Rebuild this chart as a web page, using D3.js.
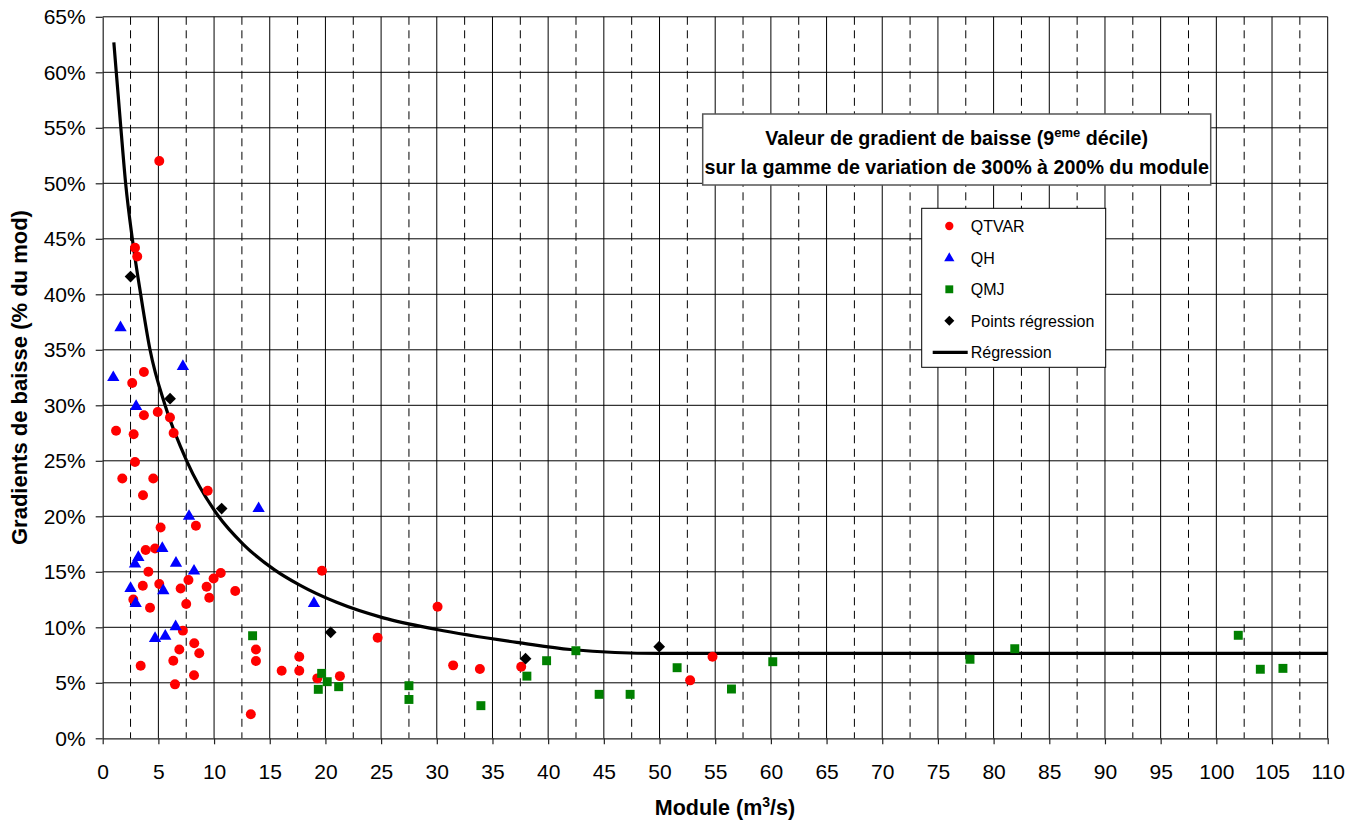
<!DOCTYPE html>
<html>
<head>
<meta charset="utf-8">
<script src="https://cdn.jsdelivr.net/npm/d3@7"></script>
<style>
  html, body { margin: 0; padding: 0; background: #fff; }
  svg { display: block; font-family: "Liberation Sans", Arial, sans-serif; }
</style>
</head>
<body>
<svg id="chart" width="1350" height="833"></svg>
<script>
// ---- Data: module (m3/s) and 9th-decile drop gradient (% of module) ----
const qtvarX = [5.08, 2.9, 3.1, 3.7, 2.65, 3.7, 4.94, 6.04, 1.2, 2.78, 6.37, 2.9, 1.76, 4.54, 9.43, 3.62,
  8.37, 5.2, 3.86, 4.7, 4.1, 10.6, 9.96, 7.7, 3.6, 5.08, 7.0, 9.33, 9.57, 11.9, 2.75, 7.5, 4.25, 7.2,
  8.22, 6.88, 8.67, 13.76, 13.76, 6.34, 3.41, 8.2, 6.49, 13.3, 19.69, 30.07, 24.69, 17.65, 16.07, 17.65,
  19.27, 21.3, 31.47, 33.87, 37.58, 54.76, 52.75];
const qtvarY = [52.0, 44.2, 43.4, 33.0, 32.0, 29.1, 29.4, 28.9, 27.7, 27.4, 27.5, 24.9, 23.4, 23.4, 22.3, 21.9,
  19.15, 19.0, 16.96, 17.1, 15.0, 14.9, 14.4, 14.26, 13.75, 13.9, 13.5, 13.66, 12.67, 13.27, 12.5, 12.1, 11.77, 9.7,
  8.56, 8.0, 7.66, 8.0, 6.96, 6.99, 6.54, 5.68, 4.86, 2.16, 15.1, 11.86, 9.06, 7.35, 6.09, 6.09,
  5.4, 5.6, 6.57, 6.24, 6.45, 7.35, 5.22];

const qhX = [1.6, 7.2, 0.95, 3.0, 14.0, 7.75, 5.35, 3.2, 2.9, 6.58, 8.2, 2.5, 5.44, 2.96, 6.55, 4.7, 5.62, 18.97];
const qhY = [37.0, 33.5, 32.5, 29.9, 20.7, 20.0, 17.1, 16.3, 15.7, 15.77, 15.07, 13.5, 13.3, 12.16, 10.05, 9.0, 9.2, 12.16];

const qmjX = [13.46, 19.66, 20.16, 19.36, 21.19, 27.5, 27.5, 33.96, 38.09, 39.86, 42.49, 44.58, 47.36,
  51.58, 56.46, 60.17, 77.88, 81.9, 101.97, 103.95, 105.98];
const qmjY = [9.24, 5.85, 5.1, 4.41, 4.65, 4.74, 3.5, 2.94, 5.6, 6.99, 7.89, 3.96, 3.96,
  6.36, 4.44, 6.9, 7.12, 8.07, 9.28, 6.22, 6.3];

const regPtsX = [2.5, 6.05, 10.68, 20.47, 37.97, 49.97];
const regPtsY = [41.6, 30.6, 20.7, 9.55, 7.17, 8.25];

// Regression curve, sampled along its course
const regLineX = [1.0, 1.22, 1.63, 2.06, 2.66, 3.41, 4.25, 5.6, 7.54, 10.4, 12.6, 15.4, 17.7, 21.0, 25.2, 30.0, 37.5, 42.0, 50.0, 110.0];
const regLineY = [62.7, 60.0, 55.0, 50.0, 45.0, 40.0, 35.0, 30.0, 25.0, 20.0, 17.5, 15.2, 13.8, 12.25, 10.85, 9.8, 8.6, 8.0, 7.65, 7.65];

const xTicks = d3.range(0, 111, 5);
const xMinor = d3.range(2.5, 110, 5);
const yTicks = d3.range(0, 66, 5);

const legendLabels = ["QTVAR", "QH", "QMJ", "Points régression", "Régression"];

// ---- Layout ----
const svg = d3.select("#chart");
const x = d3.scaleLinear().domain([0, 110]).range([102.7, 1327.7]);
const y = d3.scaleLinear().domain([0, 65]).range([738.3, 16.8]);

const grid = svg.append("g");
// horizontal major grid
grid.selectAll("line.h").data(yTicks.filter(d => d > 0)).join("line")
  .attr("x1", x(0)).attr("x2", x(110))
  .attr("y1", d => y(d)).attr("y2", d => y(d))
  .attr("stroke", "#000").attr("stroke-width", 1);
// vertical major grid
grid.selectAll("line.v").data(xTicks.filter(d => d > 0)).join("line")
  .attr("x1", d => x(d)).attr("x2", d => x(d))
  .attr("y1", y(0)).attr("y2", y(65))
  .attr("stroke", "#000").attr("stroke-width", 1);
// vertical minor dashed grid
grid.selectAll("line.m").data(xMinor).join("line")
  .attr("x1", d => x(d)).attr("x2", d => x(d))
  .attr("y1", y(65)).attr("y2", y(0))
  .attr("stroke", "#000").attr("stroke-width", 1)
  .attr("stroke-dasharray", "8,5.5");

// ---- Axes ----
const axisFont = 21;
const yAxis = svg.append("g").attr("transform", `translate(${x(0)},0)`)
  .call(d3.axisLeft(y).tickValues(yTicks).tickSize(7).tickSizeOuter(0).tickPadding(10)
    .tickFormat(d => d + "%"));
const xAxis = svg.append("g").attr("transform", `translate(0,${y(0)})`)
  .call(d3.axisBottom(x).tickValues(xTicks).tickSize(6).tickSizeOuter(0).tickPadding(19.3)
    .tickFormat(d3.format("d")));
[xAxis, yAxis].forEach(g => {
  g.select(".domain").attr("stroke", "#222").attr("stroke-width", 1.2);
  g.selectAll(".tick line").attr("stroke", "#222").attr("stroke-width", 1.2);
  g.selectAll(".tick text").attr("font-size", axisFont)
    .attr("font-family", "'Liberation Sans', Arial, sans-serif").attr("fill", "#000");
});
yAxis.selectAll(".tick text").attr("dy", "0.34em");

// ---- Regression curve ----
const line = d3.line().x(d => x(d[0])).y(d => y(d[1])).curve(d3.curveMonotoneX);
svg.append("path")
  .datum(d3.zip(regLineX, regLineY))
  .attr("d", line)
  .attr("fill", "none").attr("stroke", "#000").attr("stroke-width", 3.2);

// ---- Markers ----
const circleSym = d3.symbol().type(d3.symbolCircle);
const triSym = d3.symbol().type(d3.symbolTriangle);
const sqSym = d3.symbol().type(d3.symbolSquare);
const diaSym = d3.symbol().type(d3.symbolDiamond2);

function series(xs, ys, sym, size, color) {
  svg.append("g").selectAll("path").data(d3.zip(xs, ys)).join("path")
    .attr("transform", d => `translate(${x(d[0])},${y(d[1])})`)
    .attr("d", sym.size(size)())
    .attr("fill", color);
}
series(qtvarX, qtvarY, circleSym, 78, "#ff0000");
series(qhX, qhY, triSym, 66, "#0000ff");
series(qmjX, qmjY, sqSym, 80, "#008000");
series(regPtsX, regPtsY, diaSym, 88, "#000000");

// ---- Title box ----
const tb = svg.append("g");
tb.append("rect").attr("x", 702.7).attr("y", 114).attr("width", 508).attr("height", 71)
  .attr("fill", "#fff").attr("stroke", "#555").attr("stroke-width", 1.5);
const t1 = tb.append("text").attr("x", 956.7).attr("y", 145).attr("text-anchor", "middle")
  .attr("font-size", 19.7).attr("font-weight", "bold");
t1.append("tspan").text("Valeur de gradient de baisse (9");
t1.append("tspan").attr("font-size", 13).attr("dy", -8).text("eme");
t1.append("tspan").attr("dy", 8).text(" décile)");
tb.append("text").attr("x", 956.7).attr("y", 173.5).attr("text-anchor", "middle")
  .attr("font-size", 19.7).attr("font-weight", "bold")
  .text("sur la gamme de variation de 300% à 200% du module");

// ---- Legend ----
const lg = svg.append("g");
lg.append("rect").attr("x", 921.7).attr("y", 208.3).attr("width", 184).attr("height", 159)
  .attr("fill", "#fff").attr("stroke", "#000").attr("stroke-width", 1);
const rowY = [226, 258.3, 289.3, 320.7, 352.3];
const lgSyms = [
  { sym: circleSym, size: 54, color: "#ff0000" },
  { sym: triSym, size: 46, color: "#0000ff" },
  { sym: sqSym, size: 62, color: "#008000" },
  { sym: diaSym, size: 64, color: "#000000" }
];
lgSyms.forEach((s, i) => {
  lg.append("path").attr("transform", `translate(949.3,${rowY[i]})`)
    .attr("d", s.sym.size(s.size)()).attr("fill", s.color);
});
lg.append("line").attr("x1", 932.7).attr("x2", 967.7).attr("y1", rowY[4]).attr("y2", rowY[4])
  .attr("stroke", "#000").attr("stroke-width", 3.2);
lg.selectAll("text").data(legendLabels).join("text")
  .attr("x", 970.7).attr("y", (d, i) => rowY[i] + 6)
  .attr("font-size", 16).text(d => d);

// ---- Axis titles ----
const xt = svg.append("text").attr("x", 725).attr("y", 815).attr("text-anchor", "middle")
  .attr("font-size", 21.5).attr("font-weight", "bold");
xt.append("tspan").text("Module (m");
xt.append("tspan").attr("font-size", 14).attr("dy", -8).text("3");
xt.append("tspan").attr("dy", 8).text("/s)");

svg.append("text").attr("transform", `translate(27,${(y(0) + y(65)) / 2}) rotate(-90)`)
  .attr("text-anchor", "middle").attr("font-size", 22).attr("font-weight", "bold")
  .text("Gradients de baisse (% du mod)");
</script>
</body>
</html>
